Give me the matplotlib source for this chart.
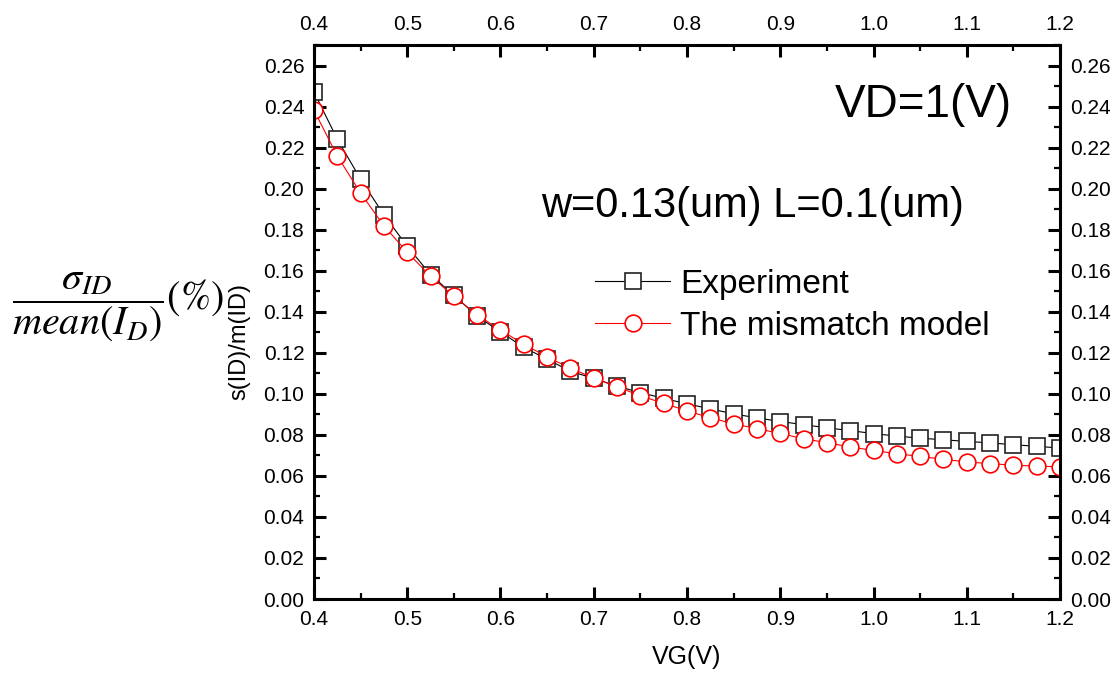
import matplotlib
matplotlib.use('Agg')
import matplotlib.pyplot as plt
from matplotlib.ticker import MultipleLocator

plt.rcParams['font.family'] = ['Liberation Sans', 'DejaVu Sans']
plt.rcParams['mathtext.fontset'] = 'stix'

# gate voltage sweep
vg = [0.400, 0.425, 0.450, 0.475, 0.500, 0.525, 0.550, 0.575, 0.600, 0.625, 0.650,
      0.675, 0.700, 0.725, 0.750, 0.775, 0.800, 0.825, 0.850, 0.875, 0.900, 0.925,
      0.950, 0.975, 1.000, 1.025, 1.050, 1.075, 1.100, 1.125, 1.150, 1.175, 1.200]

# s(ID)/m(ID) measured
experiment = [0.2471, 0.2241, 0.2046, 0.1872, 0.1719, 0.1581, 0.1480, 0.1378, 0.1302,
              0.1226, 0.1169, 0.1110, 0.1075, 0.1037, 0.1006, 0.0978, 0.0951, 0.0927,
              0.0902, 0.0883, 0.0865, 0.0850, 0.0834, 0.0821, 0.0806, 0.0794, 0.0784,
              0.0776, 0.0768, 0.0761, 0.0752, 0.0744, 0.0736]

# s(ID)/m(ID) from the mismatch model
model = [0.2382, 0.2159, 0.1978, 0.1819, 0.1690, 0.1573, 0.1476, 0.1385, 0.1310,
         0.1242, 0.1180, 0.1125, 0.1077, 0.1035, 0.0990, 0.0954, 0.0917, 0.0883,
         0.0854, 0.0830, 0.0807, 0.0781, 0.0762, 0.0741, 0.0724, 0.0708, 0.0695,
         0.0681, 0.0668, 0.0660, 0.0652, 0.0648, 0.0644]

fig = plt.figure(figsize=(11.17, 6.77), dpi=100)
ax = fig.add_axes([0.2811, 0.1152, 0.6679, 0.8183])

ax.plot(vg, experiment, color='black', linewidth=0.8, marker='s', markersize=11.5,
        markerfacecolor='white', markeredgecolor='#222222', markeredgewidth=1.2,
        label='Experiment')
ax.plot(vg, model, color='red', linewidth=0.8, marker='o', markersize=12,
        markerfacecolor='white', markeredgecolor='red', markeredgewidth=1.2,
        label='The mismatch model')

ax.set_xlim(0.4, 1.2)
ax.set_ylim(0.0, 0.27)
ax.xaxis.set_major_locator(MultipleLocator(0.1))
ax.xaxis.set_minor_locator(MultipleLocator(0.05))
ax.yaxis.set_major_locator(MultipleLocator(0.02))
ax.yaxis.set_minor_locator(MultipleLocator(0.01))
ax.xaxis.set_major_formatter(plt.FormatStrFormatter('%.1f'))
ax.yaxis.set_major_formatter(plt.FormatStrFormatter('%.2f'))

for s in ax.spines.values():
    s.set_linewidth(2.2)
ax.tick_params(which='both', direction='in', top=True, right=True,
               labeltop=True, labelright=True, labelsize=15)
ax.tick_params(which='major', length=8.5, width=2.2)
ax.tick_params(which='minor', length=4.5, width=1.6)
ax.tick_params(axis='x', pad=8)
ax.tick_params(axis='y', pad=7)

ax.set_xlabel('VG(V)', fontsize=18)
ax.xaxis.set_label_coords(0.5, -0.083)
ax.set_ylabel('s(ID)/m(ID)', fontsize=17)
ax.yaxis.set_label_coords(-0.0858, 0.4657)

ax.text(0.8164, 0.8706, 'VD=1(V)', transform=ax.transAxes, fontsize=33,
        ha='center', va='baseline')
ax.text(0.5878, 0.690, 'w=0.13(um) L=0.1(um)', transform=ax.transAxes, fontsize=30,
        ha='center', va='baseline')

ax.legend(loc='center left', bbox_to_anchor=(0.3767, 0.530), frameon=False,
          fontsize=24, handlelength=2.25, handletextpad=0.3, labelspacing=0.32,
          borderpad=0, borderaxespad=0)

# left-hand formula label
fig.text(12 / 1117, 1 - 307 / 677,
         r'$\dfrac{\sigma_{ID}}{mean(I_{D})}\mathrm{(\%)}$',
         fontsize=29, ha='left', va='center')

fig.savefig('out.png', dpi=100)
